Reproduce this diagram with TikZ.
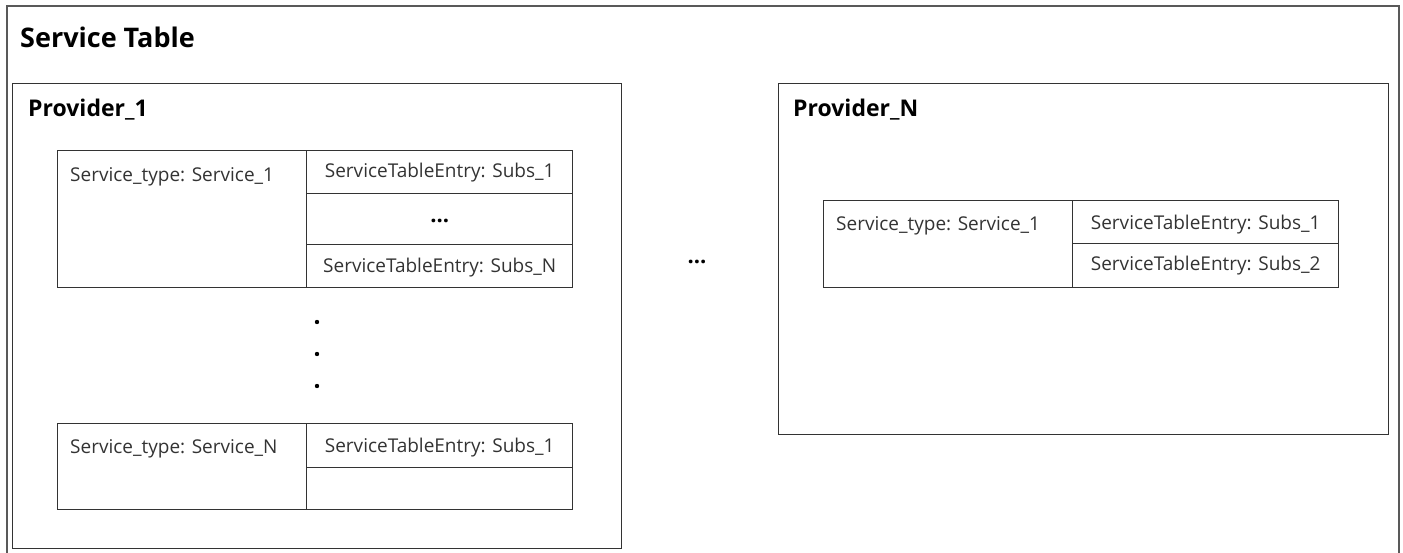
\documentclass[tikz,border=0pt]{standalone}
\usepackage{fontspec}
\setmainfont{Open Sans}
\begin{document}
\begin{tikzpicture}[x=1pt,y=-1pt,
  line/.style={draw=black!80, line width=1.4pt},
  outerbox/.style={draw=black!65, line width=1.7pt},
  box/.style={line, anchor=north west, inner sep=0pt},
  celltxt/.style={font=\fontsize{19}{22}\selectfont, text=black!80, inner sep=0pt},
  dotstxt/.style={font=\fontsize{22}{24}\selectfont\bfseries, text=black, inner sep=0pt},
  ttl/.style={font=\fontsize{27}{30}\selectfont\bfseries, anchor=west, inner sep=0pt},
  ptl/.style={font=\fontsize{23}{26}\selectfont\bfseries, anchor=west, inner sep=0pt},
  vdot/.style={circle, fill=black, inner sep=0pt, minimum size=4.4pt}
]
\useasboundingbox (0,0) rectangle (1403,553);
\clip (0,0) rectangle (1403,553);
% outer service table
\node[outerbox, anchor=north west, inner sep=0pt, minimum width=1392pt, minimum height=570pt] (st) at (6,5) {};
\node[ttl] (sttitle) at (20,37) {Service Table};

% Provider 1
\node[box, minimum width=609pt, minimum height=465pt] (p1) at (12,83) {};
\node[ptl] (p1title) at (28,110) {Provider\_1};

% table 1
\node[box, minimum width=249pt, minimum height=137pt] (t1l) at (57,150) {};
\node[box, minimum width=266pt, minimum height=43pt] (t1r1) at (306,150) {};
\node[box, minimum width=266pt, minimum height=51pt] (t1r2) at (306,193) {};
\node[box, minimum width=266pt, minimum height=43pt] (t1r3) at (306,244) {};
\node[celltxt, anchor=west] (t1lt) at (70,177) {Service\_type: Service\_1};
\node[celltxt] at (t1r1.center) {ServiceTableEntry: Subs\_1};
\node[dotstxt] at ([yshift=-2pt]t1r2.center) {...};
\node[celltxt] at ([yshift=-1pt]t1r3.center) {ServiceTableEntry: Subs\_N};

% vertical dots
\node[vdot] (d1) at (317,322) {};
\node[vdot] (d2) at (317,354) {};
\node[vdot] (d3) at (317,386) {};

% table 2
\node[box, minimum width=249pt, minimum height=86pt] (t2l) at (57,423) {};
\node[box, minimum width=266pt, minimum height=44pt] (t2r1) at (306,423) {};
\node[box, minimum width=266pt, minimum height=42pt] (t2r2) at (306,467) {};
\node[celltxt, anchor=west] (t2lt) at (70,449) {Service\_type: Service\_N};
\node[celltxt] at ([yshift=-2pt]t2r1.center) {ServiceTableEntry: Subs\_1};

% middle dots
\node[dotstxt] (mid) at (697,262) {...};

% Provider N
\node[box, minimum width=610pt, minimum height=351pt] (pn) at (778,83) {};
\node[ptl] (pntitle) at (793,110) {Provider\_N};

% table 3
\node[box, minimum width=249pt, minimum height=87pt] (t3l) at (823,200) {};
\node[box, minimum width=266pt, minimum height=43pt] (t3r1) at (1072,200) {};
\node[box, minimum width=266pt, minimum height=44pt] (t3r2) at (1072,243) {};
\node[celltxt, anchor=west] (t3lt) at (836,226) {Service\_type: Service\_1};
\node[celltxt] at ([yshift=-2pt]t3r1.center) {ServiceTableEntry: Subs\_1};
\node[celltxt] at (t3r2.center) {ServiceTableEntry: Subs\_2};
\end{tikzpicture}
\end{document}
